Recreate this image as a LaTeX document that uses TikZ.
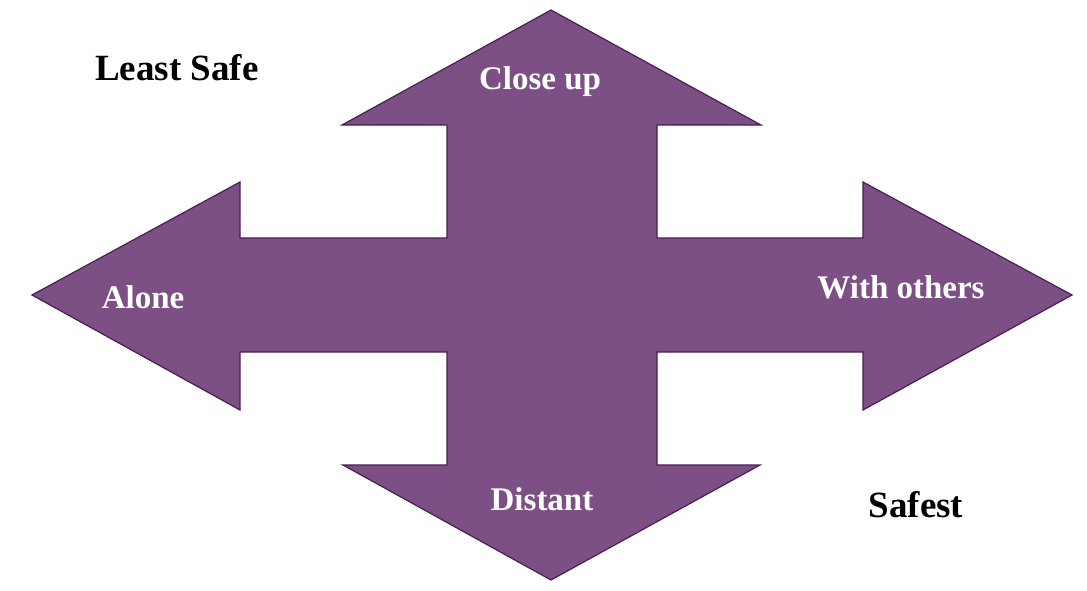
\documentclass[tikz,border=0pt]{standalone}
\usepackage{fontspec}
\setmainfont{Liberation Serif}
\begin{document}
\begin{tikzpicture}[x=1pt, y=-1pt,
          cross/.style={fill={rgb,255:red,124;green,80;blue,132}, draw={rgb,255:red,75;green,30;blue,82}, line width=1.2pt, line join=miter},
          dirlbl/.style={anchor=base, inner sep=0pt, text=white, font=\bfseries\fontsize{33}{38}\selectfont},
          cornerlbl/.style={anchor=base, inner sep=0pt, text=black, font=\bfseries\fontsize{37}{42}\selectfont}]
        \useasboundingbox (0,0) rectangle (1087,590);
        % four-way arrow, pixel coordinates of the reference
        \draw[cross] (551,10) -- (761,125) -- (657,125) -- (657,238) -- (863,238) -- (863,182)
          -- (1072,295) -- (863,410) -- (863,352) -- (657,352) -- (657,465) -- (760,465)
          -- (551,580) -- (343,465) -- (447,465) -- (447,352) -- (240,352) -- (240,410)
          -- (32,295) -- (240,182) -- (240,238) -- (447,238) -- (447,125) -- (342,125) -- cycle;
        \node[dirlbl] (closeup) at (540,89) {Close up};
        \node[dirlbl] (alone) at (143,308) {Alone};
        \node[dirlbl] (others) at (901,298) {With others};
        \node[dirlbl] (distant) at (542,510) {Distant};
        \node[cornerlbl] (least) at (177,80) {Least Safe};
        \node[cornerlbl] (safest) at (916,517) {Safest};
      \end{tikzpicture}
\end{document}
